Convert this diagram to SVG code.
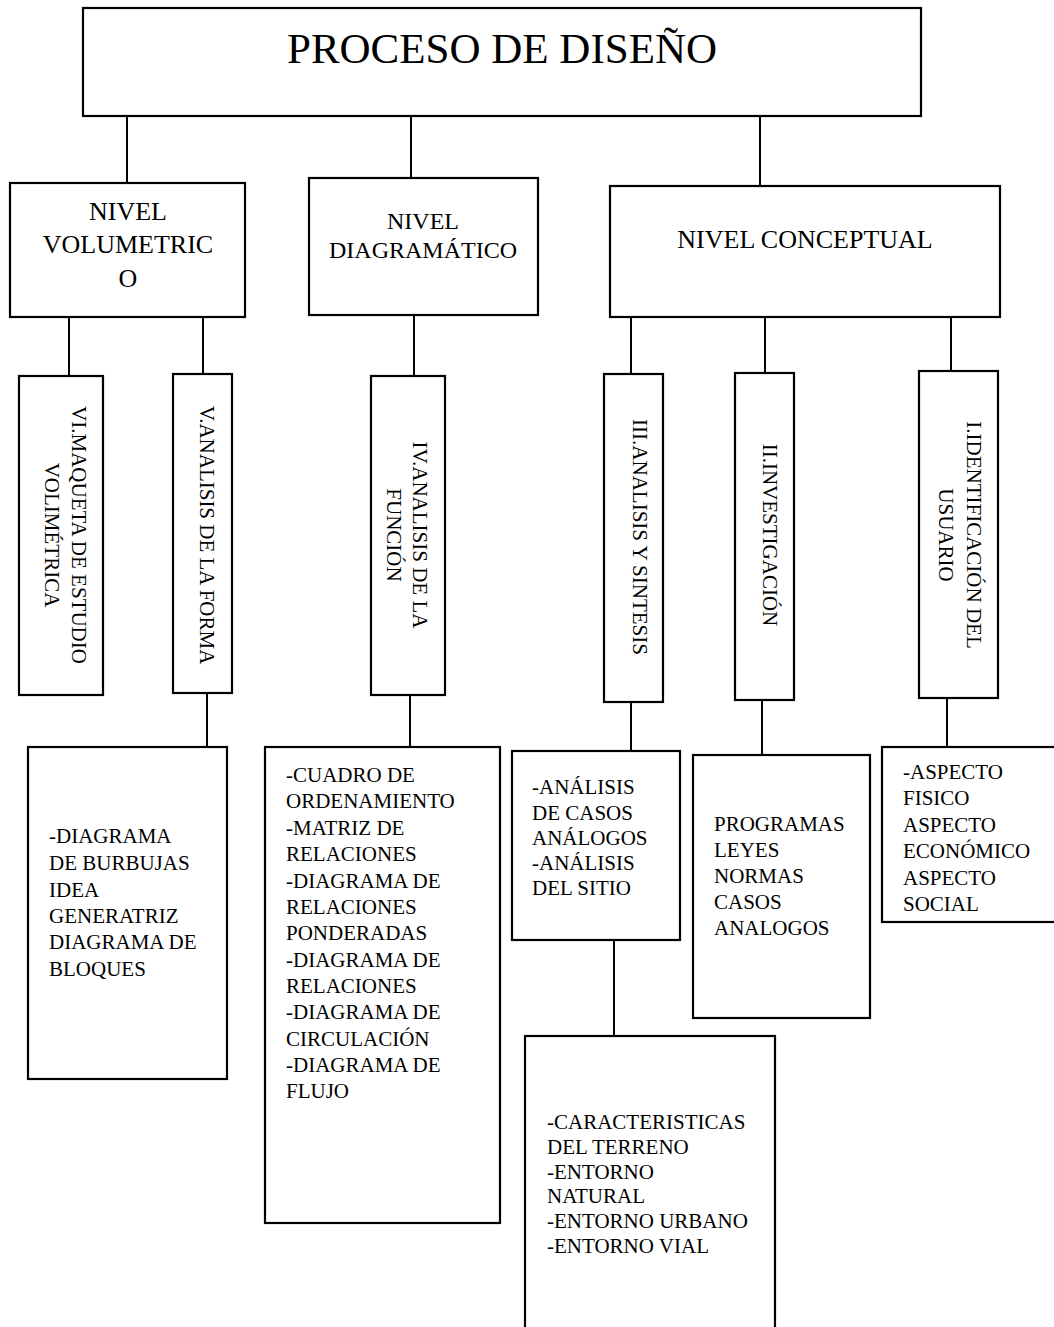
<svg xmlns="http://www.w3.org/2000/svg" width="1054" height="1327" viewBox="0 0 1054 1327">
<style>
rect{fill:#fff;stroke:#000;stroke-width:2.2}
line{stroke:#000;stroke-width:2}
text{font-family:"Liberation Serif","Times New Roman",serif;fill:#000}
.t{font-size:43px;text-anchor:middle}
.l{font-size:26px;text-anchor:middle}
.v{font-size:21px;text-anchor:middle}
.b{font-size:21px}
</style>
<rect width="1054" height="1327" style="fill:#fff;stroke:none"/>
<g id="connectors">
<line x1="127" y1="116" x2="127" y2="183"/>
<line x1="411" y1="116" x2="411" y2="178"/>
<line x1="760" y1="113" x2="760" y2="187"/>
<line x1="69" y1="317" x2="69" y2="376"/>
<line x1="203" y1="317" x2="203" y2="374"/>
<line x1="414" y1="315" x2="414" y2="376"/>
<line x1="631" y1="317" x2="631" y2="374"/>
<line x1="765" y1="317" x2="765" y2="373"/>
<line x1="951" y1="317" x2="951" y2="371"/>
<line x1="207" y1="693" x2="207" y2="747"/>
<line x1="410" y1="695" x2="410" y2="747"/>
<line x1="631" y1="702" x2="631" y2="751"/>
<line x1="762" y1="700" x2="762" y2="755"/>
<line x1="947" y1="698" x2="947" y2="747"/>
<line x1="614" y1="940" x2="614" y2="1036"/>
</g>
<g id="proceso">
<rect x="83" y="8" width="838" height="108"/>
<text class="t" x="502" y="63">PROCESO DE DISEÑO</text>
</g>
<g id="nivel-volumetrico">
<rect x="10" y="183" width="235" height="134"/>
<text class="l" x="128" y="220">NIVEL</text>
<text class="l" x="128" y="253">VOLUMETRIC</text>
<text class="l" x="128" y="287">O</text>
</g>
<g id="nivel-diagramatico">
<rect x="309" y="178" width="229" height="137"/>
<text class="l" x="423" y="229" style="font-size:24px">NIVEL</text>
<text class="l" x="423" y="258" style="font-size:24px">DIAGRAMÁTICO</text>
</g>
<g id="nivel-conceptual">
<rect x="610" y="186" width="390" height="131"/>
<text class="l" x="805" y="248">NIVEL CONCEPTUAL</text>
</g>
<g id="vi">
<rect x="19" y="376" width="84" height="319"/>
<g transform="translate(72,535) rotate(90)">
<text class="v" x="0" y="0">VI.MAQUETA DE ESTUDIO</text>
<text class="v" x="0" y="27">VOLIMÉTRICA</text>
</g>
</g>
<g id="v">
<rect x="173" y="374" width="59" height="319"/>
<text class="v" transform="translate(200,535) rotate(90)">V.ANALISIS DE LA FORMA</text>
</g>
<g id="iv">
<rect x="371" y="376" width="74" height="319"/>
<g transform="translate(413,535) rotate(90)">
<text class="v" x="0" y="0">IV.ANALISIS DE LA</text>
<text class="v" x="0" y="26">FUNCIÓN</text>
</g>
</g>
<g id="iii">
<rect x="604" y="374" width="59" height="328"/>
<text class="v" transform="translate(633,537) rotate(90)">III.ANALISIS Y SINTESIS</text>
</g>
<g id="ii">
<rect x="735" y="373" width="59" height="327"/>
<text class="v" transform="translate(763,535) rotate(90)">II.INVESTIGACIÓN</text>
</g>
<g id="i">
<rect x="919" y="371" width="79" height="327"/>
<g transform="translate(967,535) rotate(90)">
<text class="v" x="0" y="0">I.IDENTIFICACIÓN DEL</text>
<text class="v" x="0" y="28">USUARIO</text>
</g>
</g>
<g id="forma-items">
<rect x="28" y="747" width="199" height="332"/>
<text class="b" x="49" y="843">-DIAGRAMA</text>
<text class="b" x="49" y="870">DE BURBUJAS</text>
<text class="b" x="49" y="897">IDEA</text>
<text class="b" x="49" y="923">GENERATRIZ</text>
<text class="b" x="49" y="949">DIAGRAMA DE</text>
<text class="b" x="49" y="976">BLOQUES</text>
</g>
<g id="funcion-items">
<rect x="265" y="747" width="235" height="476"/>
<text class="b" x="286" y="782">-CUADRO DE</text>
<text class="b" x="286" y="808">ORDENAMIENTO</text>
<text class="b" x="286" y="835">-MATRIZ DE</text>
<text class="b" x="286" y="861">RELACIONES</text>
<text class="b" x="286" y="888">-DIAGRAMA DE</text>
<text class="b" x="286" y="914">RELACIONES</text>
<text class="b" x="286" y="940">PONDERADAS</text>
<text class="b" x="286" y="967">-DIAGRAMA DE</text>
<text class="b" x="286" y="993">RELACIONES</text>
<text class="b" x="286" y="1019">-DIAGRAMA DE</text>
<text class="b" x="286" y="1046">CIRCULACIÓN</text>
<text class="b" x="286" y="1072">-DIAGRAMA DE</text>
<text class="b" x="286" y="1098">FLUJO</text>
</g>
<g id="analisis-items">
<rect x="512" y="751" width="168" height="189"/>
<text class="b" x="532" y="794">-ANÁLISIS</text>
<text class="b" x="532" y="820">DE CASOS</text>
<text class="b" x="532" y="845">ANÁLOGOS</text>
<text class="b" x="532" y="870">-ANÁLISIS</text>
<text class="b" x="532" y="895">DEL SITIO</text>
</g>
<g id="sitio-items">
<rect x="525" y="1036" width="250" height="300"/>
<text class="b" x="547" y="1129">-CARACTERISTICAS</text>
<text class="b" x="547" y="1154">DEL TERRENO</text>
<text class="b" x="547" y="1179">-ENTORNO</text>
<text class="b" x="547" y="1203">NATURAL</text>
<text class="b" x="547" y="1228">-ENTORNO URBANO</text>
<text class="b" x="547" y="1253">-ENTORNO VIAL</text>
</g>
<g id="investigacion-items">
<rect x="693" y="755" width="177" height="263"/>
<text class="b" x="714" y="831">PROGRAMAS</text>
<text class="b" x="714" y="857">LEYES</text>
<text class="b" x="714" y="883">NORMAS</text>
<text class="b" x="714" y="909">CASOS</text>
<text class="b" x="714" y="935">ANALOGOS</text>
</g>
<g id="usuario-items">
<rect x="882" y="747" width="180" height="175"/>
<text class="b" x="903" y="779">-ASPECTO</text>
<text class="b" x="903" y="805">FISICO</text>
<text class="b" x="903" y="832">ASPECTO</text>
<text class="b" x="903" y="858">ECONÓMICO</text>
<text class="b" x="903" y="885">ASPECTO</text>
<text class="b" x="903" y="911">SOCIAL</text>
</g>
</svg>
